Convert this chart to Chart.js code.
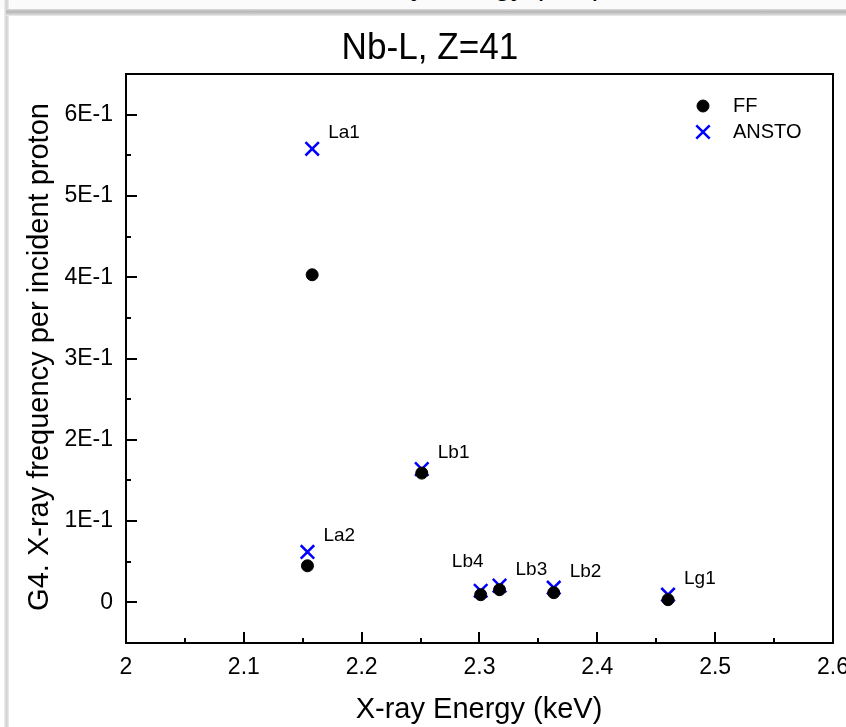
<!DOCTYPE html>
<html>
<head>
<meta charset="utf-8">
<title>Nb-L, Z=41</title>
<script src="https://cdn.jsdelivr.net/npm/chart.js@4.4.1/dist/chart.umd.min.js"></script>
<style>
  html, body { margin: 0; padding: 0; background: #fff; }
  body { width: 846px; height: 727px; position: relative; overflow: hidden; font-family: 'Liberation Sans', Arial, sans-serif; }
  /* bottom edge of the figure above this one */
  #prevStrip { position: absolute; left: 0; top: 0; width: 846px; height: 9px; overflow: hidden; background: #fbfbfb; }
  #prevStrip span { position: absolute; left: 356px; top: -29px; font-size: 29px; line-height: 29px; color: #000; white-space: nowrap; }
  #pageBreak { position: absolute; left: 6px; top: 9px; width: 840px; height: 7px;
    background: linear-gradient(#dcdcdc, #b8b8b8 35%, #c8c8c8 65%, #eeeeee); }
  #sideEdge { position: absolute; left: 4px; top: 0; width: 5px; height: 727px;
    background: linear-gradient(to right, #f2f2f2, #d0d0d0 50%, #ececec); }
  #chartBox { position: absolute; left: 0; top: 0; width: 846px; height: 727px; }
</style>
</head>
<body>
<div id="prevStrip"><span>X-ray Energy (keV)</span></div>
<div id="sideEdge"></div>
<div id="pageBreak"></div>
<div id="chartBox"><canvas id="nbChart" width="846" height="727"></canvas></div>

<script>
// Nb L-shell lines: energy (keV) and X-ray frequency per incident proton
const lineNames = ['La2', 'La1', 'Lb1', 'Lb4', 'Lb3', 'Lb2', 'Lg1'];
const energyKeV = [2.154, 2.158, 2.251, 2.301, 2.317, 2.363, 2.460];
const freqFF    = [0.045, 0.403, 0.159, 0.0094, 0.0156, 0.0119, 0.0033];
const freqANSTO = [0.062, 0.558, 0.164, 0.0143, 0.0205, 0.0180, 0.0094];

const xTicks = [2, 2.1, 2.2, 2.3, 2.4, 2.5, 2.6];
const xTickLabels = ['2', '2.1', '2.2', '2.3', '2.4', '2.5', '2.6'];
const yTicks = [0, 0.1, 0.2, 0.3, 0.4, 0.5, 0.6];
const yTickLabels = ['0', '1E-1', '2E-1', '3E-1', '4E-1', '5E-1', '6E-1'];

const FONT = "'Liberation Sans', Arial, sans-serif";

// frame, inward ticks, titles, legend and line labels
const decorations = {
    id: 'decorations',
    afterDatasetsDraw(chart) {
        const { ctx, chartArea: a, scales: { x, y } } = chart;
        ctx.save();
        ctx.strokeStyle = '#000';
        ctx.lineWidth = 2;
        ctx.strokeRect(a.left, a.top, a.right - a.left, a.bottom - a.top);

        // major + minor ticks pointing into the plot
        ctx.beginPath();
        for (let v = 2; v <= 2.6001; v += 0.05) {
            const px = Math.round(x.getPixelForValue(v));
            const major = Math.abs(v * 10 - Math.round(v * 10)) < 1e-6;
            ctx.moveTo(px, a.bottom);
            ctx.lineTo(px, a.bottom - (major ? 11 : 5));
        }
        for (let v = 0; v <= 0.6001; v += 0.05) {
            const py = Math.round(y.getPixelForValue(v));
            const major = Math.abs(v * 10 - Math.round(v * 10)) < 1e-6;
            ctx.moveTo(a.left, py);
            ctx.lineTo(a.left + (major ? 11 : 5), py);
        }
        ctx.stroke();

        // chart title
        ctx.fillStyle = '#000';
        ctx.textAlign = 'center';
        ctx.textBaseline = 'alphabetic';
        ctx.save();
        ctx.translate(430, 59);
        ctx.scale(0.95, 1);
        ctx.font = '37px ' + FONT;
        ctx.fillText('Nb-L, Z=41', 0, 0);
        ctx.restore();

        // axis titles
        ctx.font = '29px ' + FONT;
        ctx.fillText('X-ray Energy (keV)', 479, 718);
        ctx.save();
        ctx.translate(40, 357);
        ctx.rotate(-Math.PI / 2);
        ctx.textBaseline = 'middle';
        ctx.fillText('G4. X-ray frequency per incident proton', 0, 0);
        ctx.restore();

        // legend
        const ds = chart.data.datasets;
        ctx.font = '20px ' + FONT;
        ctx.textAlign = 'left';
        ctx.textBaseline = 'middle';
        ds.forEach((d, i) => {
            const ly = 106 + i * 26;
            ctx.fillStyle = d.pointBackgroundColor;
            ctx.strokeStyle = d.pointBorderColor;
            ctx.lineWidth = d.pointBorderWidth;
            Chart.helpers.drawPoint(ctx, {
                pointStyle: d.pointStyle, rotation: 0,
                radius: d.pointRadius, borderWidth: d.pointBorderWidth
            }, 703, ly);
            ctx.fillStyle = '#000';
            ctx.fillText(d.label, 733, ly);
        });

        // line names next to the ANSTO markers
        ctx.font = '19px ' + FONT;
        const pts = chart.getDatasetMeta(1).data;
        lineNames.forEach((name, i) => {
            const p = pts[i];
            if (name === 'Lb4') {
                ctx.textAlign = 'center';
                ctx.fillText(name, p.x - 13, p.y - 29);
            } else {
                ctx.textAlign = 'left';
                ctx.fillText(name, p.x + 16, p.y - 16);
            }
        });
        ctx.restore();
    }
};

new Chart(document.getElementById('nbChart'), {
    type: 'scatter',
    data: {
        datasets: [{
            label: 'FF',
            data: energyKeV.map((e, i) => ({ x: e, y: freqFF[i] })),
            pointStyle: 'circle',
            pointRadius: 6,
            pointBackgroundColor: '#000',
            pointBorderColor: '#000',
            pointBorderWidth: 1
        }, {
            label: 'ANSTO',
            data: energyKeV.map((e, i) => ({ x: e, y: freqANSTO[i] })),
            pointStyle: 'crossRot',
            pointRadius: 9.5,
            pointBackgroundColor: '#0000ff',
            pointBorderColor: '#0000ff',
            pointBorderWidth: 2.5
        }]
    },
    options: {
        responsive: false,
        animation: false,
        layout: { padding: { top: 74, right: 13, left: 0, bottom: 0 } },
        plugins: {
            legend: { display: false },
            tooltip: { enabled: false }
        },
        scales: {
            x: {
                type: 'linear',
                min: 2,
                max: 2.6,
                afterBuildTicks: s => { s.ticks = xTicks.map(v => ({ value: v })); },
                afterFit: s => { s.height = 84; s.paddingLeft = 0; s.paddingRight = 0; },
                grid: { display: false, drawTicks: false, tickLength: 0 },
                border: { display: false },
                ticks: {
                    color: '#000',
                    font: { family: FONT, size: 23 },
                    padding: 11,
                    maxRotation: 0,
                    autoSkip: false,
                    callback: (v, i) => xTickLabels[i]
                }
            },
            y: {
                type: 'linear',
                min: -0.05,
                max: 0.65,
                afterBuildTicks: s => { s.ticks = yTicks.map(v => ({ value: v })); },
                afterFit: s => { s.width = 126; s.paddingTop = 0; s.paddingBottom = 0; },
                grid: { display: false, drawTicks: false, tickLength: 0 },
                border: { display: false },
                ticks: {
                    color: '#000',
                    font: { family: FONT, size: 23 },
                    padding: 13,
                    autoSkip: false,
                    callback: (v, i) => yTickLabels[i]
                }
            }
        }
    },
    plugins: [decorations]
});
</script>
</body>
</html>
